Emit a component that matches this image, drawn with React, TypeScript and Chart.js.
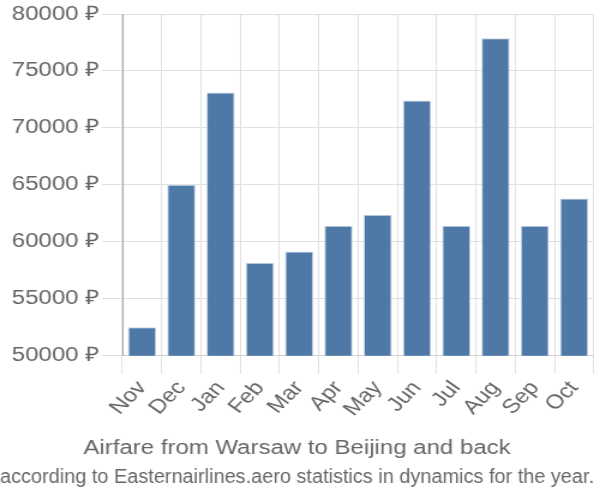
import React, { useEffect, useRef } from "react";
import { Chart, registerables } from "chart.js";

Chart.register(...registerables);

const months = ["Nov", "Dec", "Jan", "Feb", "Mar", "Apr", "May", "Jun", "Jul", "Aug", "Sep", "Oct"];
const prices = [52500, 65000, 73100, 58150, 59150, 61400, 62380, 72400, 61400, 77880, 61400, 63800];
const yTicks = [50000, 55000, 60000, 65000, 70000, 75000, 80000];
const titleText = "Airfare from Warsaw to Beijing and back";
const subtitleText = "according to Easternairlines.aero statistics in dynamics for the year.";

const FONT = "'Liberation Sans', Arial, sans-serif";

export default function App() {
  const ref = useRef<HTMLCanvasElement | null>(null);
  useEffect(() => {
    if (!ref.current) return;
    const chart = new Chart(ref.current, {
      type: "bar",
      data: {
        labels: months,
        datasets: [
          {
            data: prices,
            backgroundColor: "#4e79a7",
            borderColor: "#c9d6e6",
            borderWidth: 1,
            categoryPercentage: 0.8,
            barPercentage: 0.9,
          },
        ],
      },
      options: {
        animation: false,
        responsive: false,
        devicePixelRatio: 1,
        layout: { padding: { left: 0, right: 5, top: 4, bottom: 0 } },
        plugins: {
          legend: { display: false },
          tooltip: { enabled: false },
          title: {
            display: true,
            position: "bottom",
            text: titleText,
            color: "#666",
            weight: 1,
            font: { family: FONT, size: 20, weight: "normal" },
            padding: { top: 12, bottom: 3 },
          },
          subtitle: {
            display: true,
            position: "bottom",
            text: subtitleText,
            color: "#666",
            weight: 2,
            font: { family: FONT, size: 20, weight: "normal" },
            padding: { top: 2, bottom: 11 },
          },
        },
        scales: {
          x: {
            grid: { color: "#e0e0e0", tickLength: 18, offset: true },
            border: { color: "#d0d0d0" },
            ticks: {
              color: "#666",
              autoSkip: false,
              maxRotation: 50,
              minRotation: 50,
              padding: 3,
              font: { family: FONT, size: 20 },
            },
          },
          y: {
            min: 50000,
            max: 80000,
            afterBuildTicks: (axis: any) => {
              axis.ticks = yTicks.map((v) => ({ value: v }));
            },
            afterFit: (axis: any) => {
              axis.width = 102;
            },
            grid: { color: "#e0e0e0", tickLength: 17 },
            border: { color: "#aaa" },
            ticks: {
              color: "#666",
              padding: 2,
              font: { family: FONT, size: 20 },
              callback: (v: any) => `${v} ₽`,
            },
          },
        },
      },
    });
    return () => chart.destroy();
  }, []);
  return (
    <div style={{ position: "fixed", left: 0, top: 0, width: 600, height: 500, background: "#fff", overflow: "hidden" }}>
      <canvas
        ref={ref}
        width={500}
        height={500}
        style={{ width: 500, height: 500, transform: "scaleX(1.2)", transformOrigin: "0 0", display: "block" }}
      />
    </div>
  );
}
